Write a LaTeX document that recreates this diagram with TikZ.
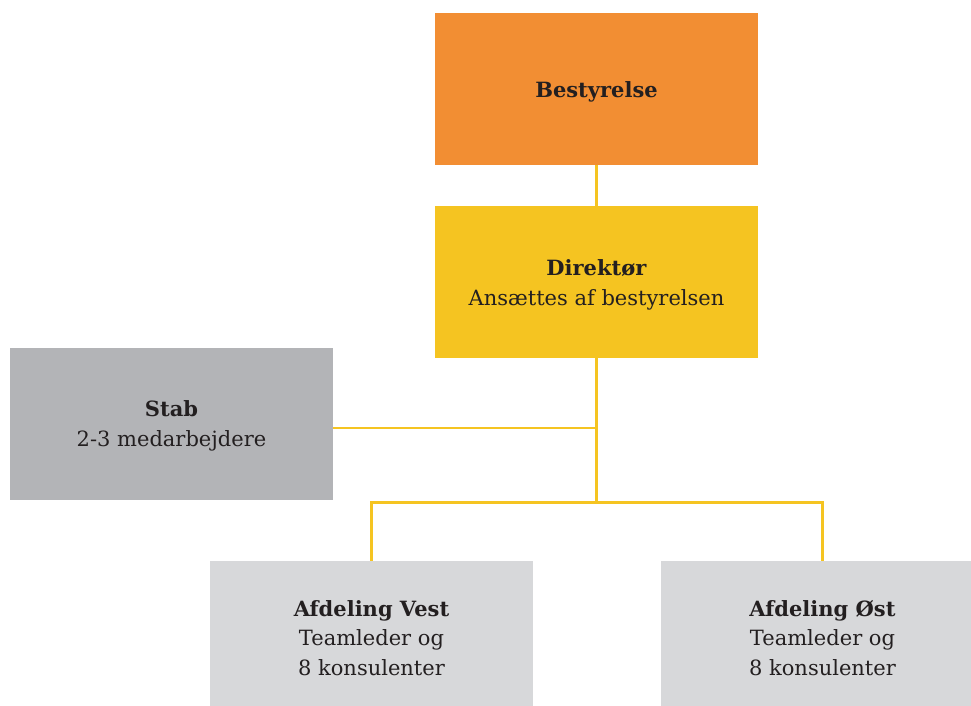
\documentclass[tikz,border=0pt]{standalone}
\usepackage{fontspec}
\setmainfont{DejaVu Serif}
\definecolor{boardorange}{HTML}{F28E33}
\definecolor{diryellow}{HTML}{F5C421}
\definecolor{staffgray}{HTML}{B3B4B7}
\definecolor{deptgray}{HTML}{D7D8DA}
\definecolor{inkdark}{HTML}{231F20}
\begin{document}
\begin{tikzpicture}[x=1pt,y=-1pt,
  orgbox/.style={draw=none, inner sep=0pt, minimum width=323pt},
  orgtext/.style={inner sep=0pt, align=center, text=inkdark,
    font=\fontsize{21}{29.5}\selectfont},
  link/.style={draw=diryellow, line width=2.6pt}]
\useasboundingbox (0,0) rectangle (971,706);
% boxes
\node[orgbox, fill=boardorange, minimum height=152pt] (board) at (596.5,89) {};
\node[orgbox, fill=diryellow, minimum height=152pt] (dir) at (596.5,282) {};
\node[orgbox, fill=staffgray, minimum height=152pt] (staff) at (171.5,424) {};
\node[orgbox, fill=deptgray, minimum height=146pt] (west) at (371.5,634) {};
\node[orgbox, fill=deptgray, minimum height=146pt] (east) at (822.5,634) {};
% box texts
\node[orgtext] (boardtext) at ([yshift=-3pt]board.center) {\textbf{Bestyrelse}};
\node[orgtext] (dirtext) at ([yshift=-3pt]dir.center) {\textbf{Direktør}\\Ansættes af bestyrelsen};
\node[orgtext] (stafftext) at ([yshift=-2pt]staff.center) {\textbf{Stab}\\2-3 medarbejdere};
\node[orgtext] (westtext) at ([yshift=-4pt]west.center) {\textbf{Afdeling Vest}\\Teamleder og\\8 konsulenter};
\node[orgtext] (easttext) at ([yshift=-4pt]east.center) {\textbf{Afdeling Øst}\\Teamleder og\\8 konsulenter};
% connectors
\coordinate (hub) at (596.5,502.5);
\coordinate (staffjoin) at (333,428);
\draw[link] (board.south) -- (dir.north);
\draw[link] (dir.south) -- (hub);
\draw[link] (staffjoin) -- (staffjoin -| dir.south);
\draw[link] (west.north) |- (hub) -| (east.north);
\end{tikzpicture}
\end{document}
